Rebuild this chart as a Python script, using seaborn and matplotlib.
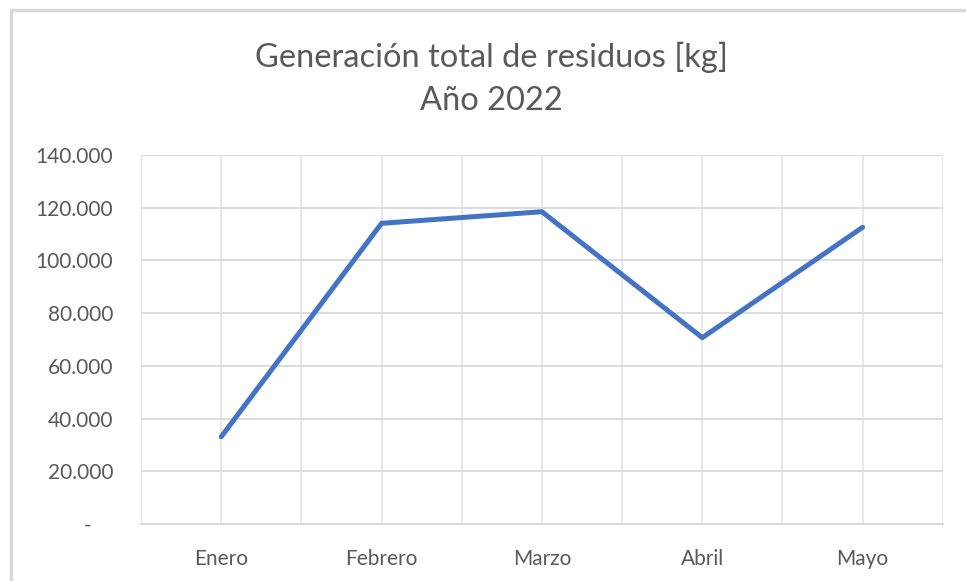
import numpy as np
import pandas as pd
import matplotlib
matplotlib.use("Agg")
import matplotlib.pyplot as plt
from matplotlib.ticker import FuncFormatter, MultipleLocator, FixedLocator
from matplotlib.patches import Rectangle
import seaborn as sns

meses = ["Enero", "Febrero", "Marzo", "Abril", "Mayo"]
residuos_kg = [33100, 114100, 118500, 70700, 112600]

df = pd.DataFrame({"Mes": meses, "Residuos": residuos_kg})

sns.set_theme(style="whitegrid")
plt.rcParams["font.family"] = ["Lato", "DejaVu Sans"]

text_color = "#595959"
grid_color = "#D9D9D9"

fig = plt.figure(figsize=(9.66, 5.81), dpi=100)
ax = fig.add_axes([0.146, 0.0981, 0.830, 0.635])

sns.lineplot(data=df, x="Mes", y="Residuos", ax=ax, color="#4472C4",
             linewidth=3.6, sort=False)

ax.set_ylim(0, 140000)
ax.set_xlim(-0.5, len(meses) - 0.5)
ax.yaxis.set_major_locator(MultipleLocator(20000))


def miles(v, pos):
    if v == 0:
        return "-    "
    return f"{int(v):,}".replace(",", ".")


ax.yaxis.set_major_formatter(FuncFormatter(miles))
ax.xaxis.set_minor_locator(FixedLocator(np.arange(-0.5, len(meses), 1.0)))
ax.grid(True, which="both", axis="x", color="#E6E6E6", linewidth=1.3)
ax.grid(True, which="major", axis="y", color=grid_color, linewidth=1.3)

ax.set_xlabel("")
ax.set_ylabel("")
ax.tick_params(axis="y", length=0, pad=20, labelsize=15, labelcolor=text_color)
ax.tick_params(axis="x", which="both", length=0, pad=18, labelsize=15,
               labelcolor=text_color)

for side in ["top", "right", "left"]:
    ax.spines[side].set_visible(False)
ax.spines["bottom"].set_color(grid_color)
ax.spines["bottom"].set_linewidth(1.3)

fig.text(0.509, 0.902, "Generación total de residuos [kg]", ha="center",
         va="center", fontsize=23.5, color=text_color)
fig.text(0.509, 0.826, "Año 2022", ha="center", va="center",
         fontsize=23.5, color=text_color)

# chart area border
fig.patches.append(Rectangle((11 / 966, -0.1), 1.2, 1.1 - 10 / 581,
                             transform=fig.transFigure, fill=False,
                             edgecolor="#D9D9D9", linewidth=2.5))

fig.savefig("out.png", dpi=100, facecolor="white")
